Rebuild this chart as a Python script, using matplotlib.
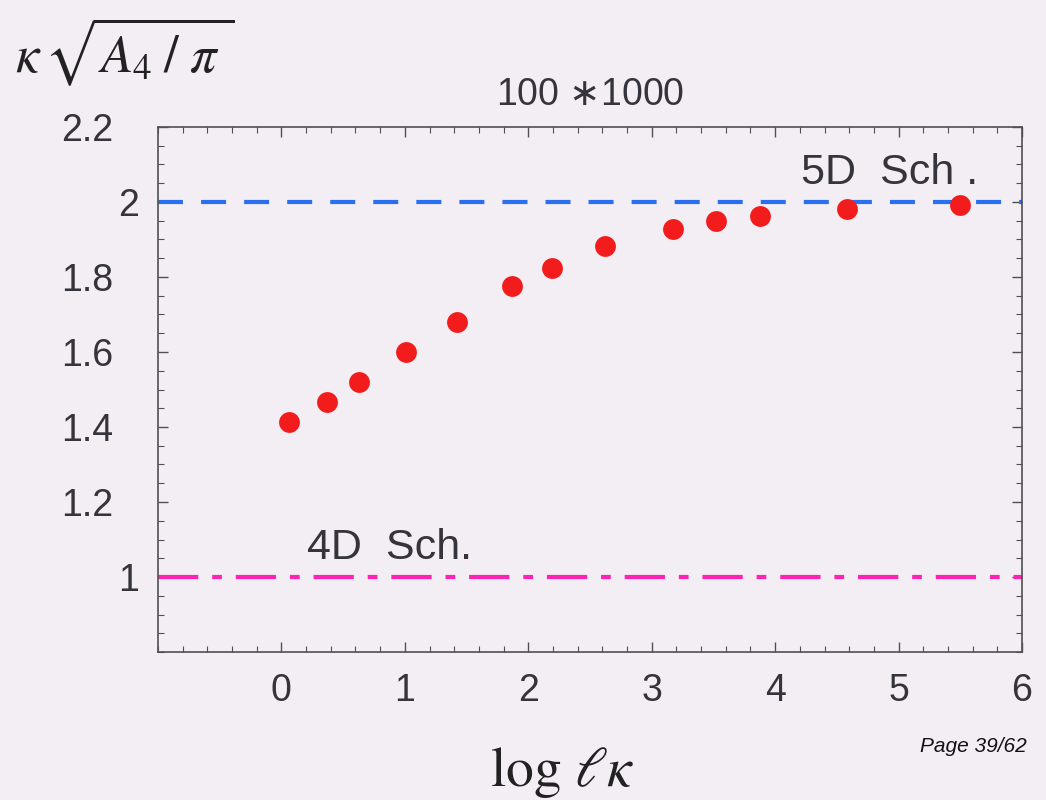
import matplotlib
matplotlib.use("Agg")
import matplotlib.pyplot as plt
import matplotlib.transforms as mtransforms
import numpy as np

# data
log_lk = [0.06, 0.37, 0.63, 1.01, 1.42, 1.87, 2.19, 2.62, 3.17, 3.52, 3.88, 4.58, 5.50]
kappa_area = [1.414, 1.467, 1.520, 1.600, 1.680, 1.776, 1.824, 1.882, 1.928, 1.949, 1.963, 1.981, 1.992]
level_5d = 2.0
level_4d = 1.0
x_ticks = [0, 1, 2, 3, 4, 5, 6]
y_ticks = [1.0, 1.2, 1.4, 1.6, 1.8, 2.0, 2.2]
y_tick_labels = ["1", "1.2", "1.4", "1.6", "1.8", "2", "2.2"]

bg = "#f3eef3"
ink = "#35343c"

plt.rcParams["font.family"] = ["Liberation Sans", "DejaVu Sans"]
plt.rcParams["lines.scale_dashes"] = False

fig = plt.figure(figsize=(10.46, 8), dpi=100, facecolor=bg)
ax = fig.add_axes([158 / 1046, 1 - 652 / 800, (1022 - 158) / 1046, (652 - 127) / 800])
ax.set_facecolor(bg)

ax.axhline(level_5d, color="#2a6ff0", lw=3, dashes=(18, 13))
ax.axhline(level_4d, color="#ff22b4", lw=3, dashes=(29, 10, 7, 10))
ax.plot(log_lk, kappa_area, "o", color="#f21c1c", markersize=15, markeredgewidth=0)

ax.set_xlim(-1, 6)
ax.set_ylim(0.8, 2.2)
ax.set_xticks(x_ticks)
ax.set_xticks(np.arange(-1, 6.01, 0.2), minor=True)
ax.set_yticks(y_ticks)
ax.set_yticklabels(y_tick_labels)
ax.set_yticks(np.arange(0.8, 2.201, 0.05), minor=True)

for side in ax.spines.values():
    side.set_color("#505050")
    side.set_linewidth(1.2)

ax.tick_params(which="both", direction="in", top=True, right=True, colors="#505050",
               labelcolor=ink, labelsize=27)
ax.tick_params(which="major", length=7, width=1)
ax.tick_params(which="minor", length=4, width=0.8)
ax.tick_params(axis="x", pad=15)
ax.tick_params(axis="y", pad=14)

# decimal labels sit further left than integer ones in the original
shift = mtransforms.ScaledTranslation(-18 / 72, 0, fig.dpi_scale_trans)
for lbl in ax.get_yticklabels():
    if "." in lbl.get_text():
        lbl.set_transform(lbl.get_transform() + shift)

ax.set_title(r"100 $\ast$1000", fontsize=27, color=ink, pad=16)

ax.text(4.21, 2.048, "5D  Sch .", fontsize=31, color=ink, ha="left", va="baseline")
ax.text(0.21, 1.048, "4D  Sch.", fontsize=31, color=ink, ha="left", va="baseline")

fig.text(15 / 1046, 1 - 72 / 800, r"$\kappa\,\sqrt{A_4\;/\;\pi\;}$", fontsize=38,
         color="#222222", math_fontfamily="stix", ha="left", va="baseline")
fig.text(490 / 1046, 1 - 786 / 800, r"$\log\,\ell\kappa$", fontsize=40, color="#222222",
         math_fontfamily="stix", ha="left", va="baseline")
fig.text(1027 / 1046, 1 - 752 / 800, "Page 39/62", fontsize=15, style="italic",
         color="#111111", ha="right", va="baseline")

fig.savefig("out.png", dpi=100, facecolor=bg)
